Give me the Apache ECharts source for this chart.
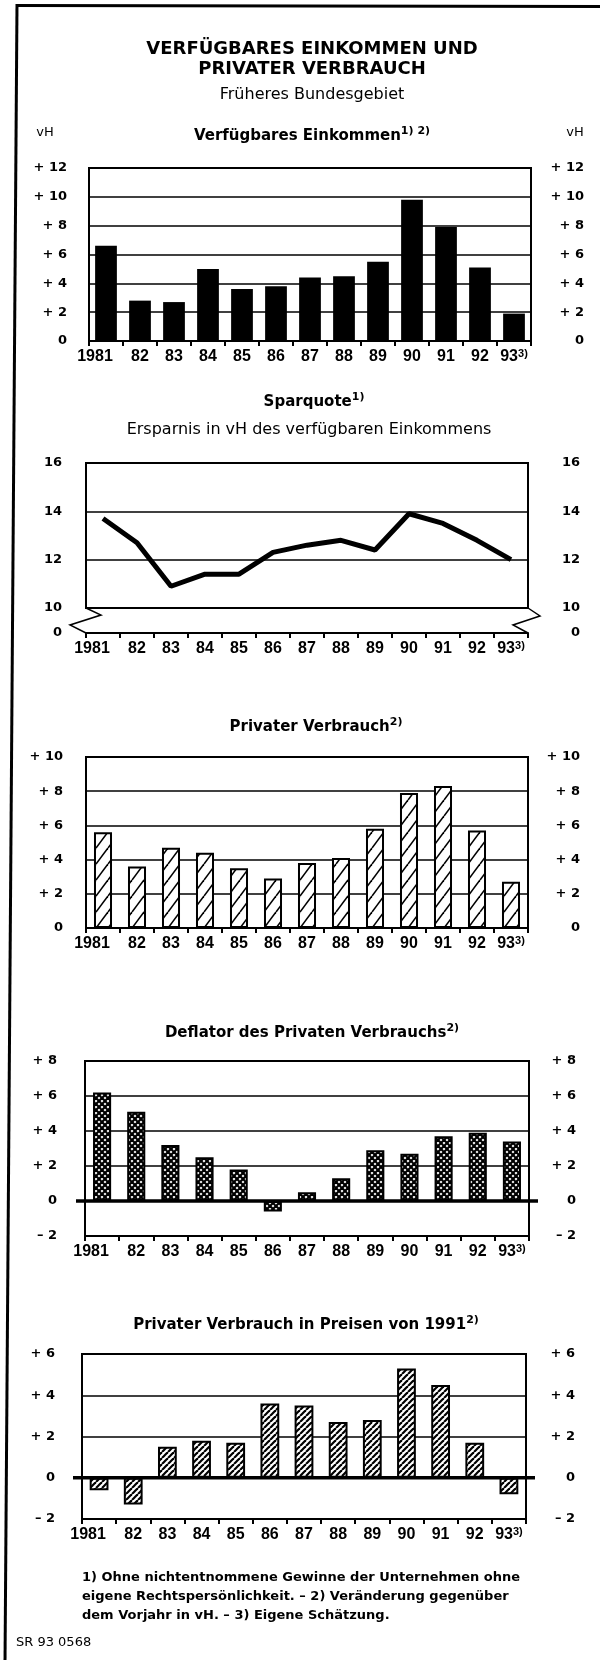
<!DOCTYPE html>
<html><head><meta charset="utf-8">
<script src="https://cdn.jsdelivr.net/npm/echarts@6/dist/echarts.min.js"></script>
<style>html,body{margin:0;padding:0;background:#fff}#c{width:600px;height:1660px}</style>
</head><body><div id="c"></div>
<script>
// ---------- data ----------
const years = ['1981','82','83','84','85','86','87','88','89','90','91','92','93'];
const einkommen     = [6.6, 2.8, 2.7, 5.0, 3.6, 3.8, 4.4, 4.5, 5.5, 9.8, 7.9, 5.1, 1.9];
const sparquote     = [13.7, 12.7, 10.9, 11.4, 11.4, 12.3, 12.6, 12.8, 12.4, 13.9, 13.5, 12.8, 12.0];
const verbrauch     = [5.6, 3.6, 4.7, 4.4, 3.5, 2.9, 3.8, 4.1, 5.8, 7.9, 8.3, 5.7, 2.7];
const deflator      = [6.2, 5.1, 3.2, 2.5, 1.8, -0.6, 0.5, 1.3, 2.9, 2.7, 3.7, 3.9, 3.4];
const realVerbrauch = [-0.6, -1.3, 1.5, 1.8, 1.7, 3.6, 3.5, 2.7, 2.8, 5.3, 4.5, 1.7, -0.8];
const yTicks1 = ['0', '+ 2', '+ 4', '+ 6', '+ 8', '+ 10', '+ 12'];
const yTicks2 = ['10', '12', '14', '16'];
const yTicks3 = ['0', '+ 2', '+ 4', '+ 6', '+ 8', '+ 10'];
const yTicks4 = ['\u2013 2', '0', '+ 2', '+ 4', '+ 6', '+ 8'];
const yTicks5 = ['\u2013 2', '0', '+ 2', '+ 4', '+ 6'];

// ---------- layout ----------
const panels = [
  {left: 89, right: 531, top: 168,  bottom: 341,  min: 0,  max: 12, ticks: yTicks1, lm: 22, rm: 53},
  {left: 86, right: 528, top: 463,  bottom: 608,  min: 10, max: 16, ticks: yTicks2, lm: 24, rm: 52, off: 25},
  {left: 86, right: 528, top: 757,  bottom: 928,  min: 0,  max: 10, ticks: yTicks3, lm: 23, rm: 52},
  {left: 85, right: 529, top: 1061, bottom: 1236, min: -2, max: 8,  ticks: yTicks4, lm: 28, rm: 47},
  {left: 82, right: 526, top: 1354, bottom: 1519, min: -2, max: 6,  ticks: yTicks5, lm: 27, rm: 49}
];

function makeHatch(w, h, lw, cross) {
  const c = document.createElement('canvas');
  c.width = w; c.height = h;
  const g = c.getContext('2d');
  g.fillStyle = '#fff'; g.fillRect(0, 0, w, h);
  g.strokeStyle = '#000'; g.lineWidth = lw;
  for (let k = -1; k <= 1; k++) {
    g.beginPath(); g.moveTo(k * w, h); g.lineTo(k * w + w, 0); g.stroke();
    if (cross) { g.beginPath(); g.moveTo(k * w, 0); g.lineTo(k * w + w, h); g.stroke(); }
  }
  return c;
}
const hatchWide  = makeHatch(12, 16, 1.6, false);
const hatchCross = makeHatch(6, 6, 2.2, true);
const hatchDense = makeHatch(6, 6, 2.2, false);

const LAB = 'Liberation Sans, Arial, sans-serif';
const DV = 'DejaVu Sans, sans-serif';
const xRich = {
  b: {fontFamily: LAB, fontWeight: 'bold', fontSize: 16, color: '#000', lineHeight: 18},
  f: {fontFamily: LAB, fontWeight: 'bold', fontSize: 16, color: '#000', lineHeight: 18, padding: [0, 22, 0, 0]},
  s: {fontFamily: LAB, fontWeight: 'bold', fontSize: 11, color: '#000', lineHeight: 11, verticalAlign: 'top'}
};
function xFmt(v, i) {
  if (i === 0) return '{f|' + v + '}';
  if (i === years.length - 1) return '{b|' + v + '}{s|3)}';
  return '{b|' + v + '}';
}

const grids = [], xAxes = [], yAxes = [];
panels.forEach((p, i) => {
  grids.push({left: p.left, top: p.top, width: p.right - p.left, height: p.bottom - p.top,
    show: true, borderColor: '#000', borderWidth: 2, backgroundColor: 'rgba(0,0,0,0)',
    containLabel: false, outerBoundsMode: 'none'});
  xAxes.push({type: 'category', gridIndex: i, data: years, boundaryGap: true, offset: p.off || 0,
    axisLine: {show: true, onZero: false, lineStyle: {color: '#000', width: 2}},
    axisTick: {show: true, inside: false, length: 5, alignWithLabel: false, lineStyle: {color: '#000', width: 2}},
    axisLabel: {margin: 7, interval: 0, formatter: xFmt, rich: xRich, color: '#000'},
    splitLine: {show: false}});
  const fmt = v => p.ticks[Math.round((v - p.min) / 2)];
  const lab = {formatter: fmt, color: '#000', fontFamily: DV, fontWeight: 'bold', fontSize: 13};
  yAxes.push({type: 'value', gridIndex: i, position: 'left', min: p.min, max: p.max, interval: 2,
    axisLine: {show: false}, axisTick: {show: false},
    splitLine: {show: true, lineStyle: {color: '#000', width: 1.6}},
    axisLabel: Object.assign({margin: p.lm}, lab)});
  yAxes.push({type: 'value', gridIndex: i, position: 'right', min: p.min, max: p.max, interval: 2,
    axisLine: {show: false}, axisTick: {show: false}, splitLine: {show: false},
    axisLabel: Object.assign({margin: p.rm, align: 'right'}, lab)});
});

const series = [
  {type: 'bar', xAxisIndex: 0, yAxisIndex: 0, data: einkommen, barWidth: '64%',
   itemStyle: {color: '#000'}},
  {type: 'line', xAxisIndex: 1, yAxisIndex: 2, data: sparquote, symbol: 'none',
   lineStyle: {color: '#000', width: 5}},
  {type: 'bar', xAxisIndex: 2, yAxisIndex: 4, data: verbrauch, barWidth: '53%',
   itemStyle: {color: {image: hatchWide, repeat: 'repeat'}, borderColor: '#000', borderWidth: 2}},
  {type: 'bar', xAxisIndex: 3, yAxisIndex: 6, data: deflator, barWidth: '53%',
   itemStyle: {color: {image: hatchCross, repeat: 'repeat'}, borderColor: '#000', borderWidth: 2}},
  {type: 'bar', xAxisIndex: 4, yAxisIndex: 8, data: realVerbrauch, barWidth: '55%',
   itemStyle: {color: {image: hatchDense, repeat: 'repeat'}, borderColor: '#000', borderWidth: 2}}
];

const chart = echarts.init(document.getElementById('c'), null, {renderer: 'canvas', width: 600, height: 1660});
chart.setOption({animation: false, backgroundColor: '#fff', grid: grids, xAxis: xAxes, yAxis: yAxes, series: series});

// ---------- annotations ----------
const gr = [];
function txt(x, y, text, font, align, extra) {
  gr.push({type: 'text', x: x, y: y, z: 100, silent: true,
    style: Object.assign({text: text, font: font, fill: '#000', textAlign: align || 'center', textVerticalAlign: 'middle'}, extra || {})});
}
function richTitle(x, y, main, sup, size, weight) {
  const fam = 'DejaVu Sans';
  gr.push({type: 'text', x: x, y: y, z: 100, silent: true,
    style: {text: '{t|' + main + '}{s|' + sup + '}', textAlign: 'center', textVerticalAlign: 'middle',
      rich: {t: {fontFamily: fam, fontWeight: weight || 'bold', fontSize: size || 15, fill: '#000', lineHeight: 20},
             s: {fontFamily: fam, fontWeight: 'bold', fontSize: 11, fill: '#000', lineHeight: 12, verticalAlign: 'top'}}}});
}
// frame
gr.push({type: 'line', z: 100, silent: true, shape: {x1: 17, y1: 4, x2: 5, y2: 1660}, style: {stroke: '#000', lineWidth: 3}});
gr.push({type: 'line', z: 100, silent: true, shape: {x1: 16, y1: 5.5, x2: 600, y2: 6.5}, style: {stroke: '#000', lineWidth: 3}});
// headings
txt(312, 49, 'VERFÜGBARES EINKOMMEN UND', 'bold 18px DejaVu Sans');
txt(312, 69, 'PRIVATER VERBRAUCH', 'bold 18px DejaVu Sans');
txt(312, 95, 'Früheres Bundesgebiet', '16px DejaVu Sans');
txt(45, 133, 'vH', '13px DejaVu Sans');
txt(575, 133, 'vH', '13px DejaVu Sans');
richTitle(312, 136, 'Verfügbares Einkommen', '1) 2)');
richTitle(314, 402, 'Sparquote', '1)');
txt(309, 430, 'Ersparnis in vH des verfügbaren Einkommens', '16px DejaVu Sans');
richTitle(316, 727, 'Privater Verbrauch', '2)');
richTitle(312, 1033, 'Deflator des Privaten Verbrauchs', '2)');
richTitle(306, 1325, 'Privater Verbrauch in Preisen von 1991', '2)');

// panel 2 axis break
const p2 = panels[1];
const ay = p2.bottom + p2.off;
gr.push({type: 'polyline', z: 100, silent: true,
  shape: {points: [[p2.left, p2.bottom], [p2.left + 15, p2.bottom + 7], [p2.left - 16, p2.bottom + 17], [p2.left, ay]]},
  style: {stroke: '#000', lineWidth: 1.5, fill: null}});
gr.push({type: 'polyline', z: 100, silent: true,
  shape: {points: [[p2.right, p2.bottom], [p2.right + 12, p2.bottom + 8], [p2.right - 15, p2.bottom + 17], [p2.right, ay]]},
  style: {stroke: '#000', lineWidth: 1.5, fill: null}});
txt(p2.left - p2.lm, ay, '0', 'bold 13px DejaVu Sans', 'right');
txt(p2.right + p2.rm, ay, '0', 'bold 13px DejaVu Sans', 'right');

// thick zero lines (panels 4 and 5)
[3, 4].forEach(i => {
  const p = panels[i];
  const y0 = chart.convertToPixel({yAxisIndex: 2 * i}, 0);
  gr.push({type: 'line', z: 100, silent: true, shape: {x1: p.left - 9, y1: y0, x2: p.right + 9, y2: y0},
    style: {stroke: '#000', lineWidth: 3.5}});
});

// footnotes
txt(82, 1578, '1) Ohne nichtentnommene Gewinne der Unternehmen ohne', 'bold 13px DejaVu Sans', 'left');
txt(82, 1597, 'eigene Rechtspersönlichkeit. \u2013 2) Veränderung gegenüber', 'bold 13px DejaVu Sans', 'left');
txt(82, 1616, 'dem Vorjahr in vH. \u2013 3) Eigene Schätzung.', 'bold 13px DejaVu Sans', 'left');
txt(16, 1643, 'SR 93 0568', '13px DejaVu Sans', 'left');

chart.setOption({graphic: gr});
</script>
</body></html>
